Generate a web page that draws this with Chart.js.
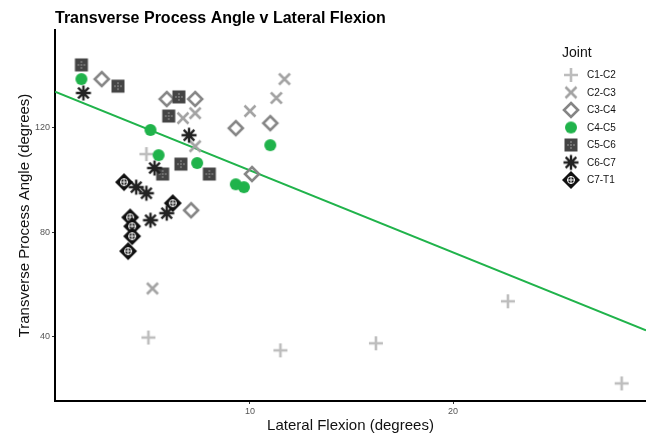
<!DOCTYPE html>
<html><head><meta charset="utf-8">
<script src="https://cdn.jsdelivr.net/npm/chart.js@4"></script>
<style>html,body{margin:0;padding:0;background:#fff}</style>
</head><body>
<canvas id="c" width="646" height="435"></canvas>
<script>
// ---- data ----
const joints = ['C1-C2', 'C2-C3', 'C3-C4', 'C4-C5', 'C5-C6', 'C6-C7', 'C7-T1'];
const c1c2X = [4.9, 5.0, 11.5, 16.2, 22.7, 28.3];
const c1c2Y = [109.7, 39.8, 34.9, 37.6, 53.6, 22.3];
const c2c3X = [5.2, 6.7, 7.3, 7.3, 10.0, 11.3, 11.7];
const c2c3Y = [58.5, 123.4, 125.3, 112.7, 126.1, 131.1, 138.3];
const c3c4X = [2.7, 5.9, 7.3, 9.3, 11.0, 10.1, 7.1];
const c3c4Y = [138.3, 130.7, 130.7, 119.6, 121.5, 102.1, 88.3];
const c4c5X = [1.7, 5.1, 5.5, 7.4, 11.0, 9.3, 9.7];
const c4c5Y = [138.3, 118.9, 109.3, 106.3, 113.1, 98.2, 97.1];
const c5c6X = [1.7, 3.5, 6.5, 6.0, 6.6, 5.7, 8.0];
const c5c6Y = [143.7, 135.6, 131.5, 124.2, 105.9, 102.1, 102.1];
const c6c7X = [1.8, 7.0, 5.3, 4.4, 4.9, 5.1, 5.9];
const c6c7Y = [133.0, 116.9, 104.4, 97.1, 94.8, 84.5, 87.2];
const c7t1X = [3.8, 4.1, 4.2, 4.2, 4.0, 6.2];
const c7t1Y = [99.0, 85.6, 82.2, 78.4, 72.7, 91.0];
const fitX = [0.4, 29.5];
const fitY = [133.5, 42.5];
const xTicks = [10, 20];
const yTicks = [40, 80, 120];

// ---- symbols ----
const FONT = '"Liberation Sans", Arial, Helvetica, sans-serif';
function sym(kind) {
  const S = 22, c = document.createElement('canvas');
  c.width = S; c.height = S;
  const g = c.getContext('2d');
  const m = S / 2;
  g.lineCap = 'butt';
  if (kind === 'plus') {
    g.strokeStyle = '#bdbdbd'; g.lineWidth = 2.6;
    g.beginPath(); g.moveTo(m - 7, m); g.lineTo(m + 7, m); g.moveTo(m, m - 7); g.lineTo(m, m + 7); g.stroke();
  } else if (kind === 'cross') {
    g.strokeStyle = '#a3a3a3'; g.lineWidth = 2.6;
    g.beginPath(); g.moveTo(m - 5.5, m - 5.5); g.lineTo(m + 5.5, m + 5.5); g.moveTo(m + 5.5, m - 5.5); g.lineTo(m - 5.5, m + 5.5); g.stroke();
  } else if (kind === 'odiamond') {
    g.strokeStyle = '#858585'; g.lineWidth = 2.6;
    g.beginPath(); g.moveTo(m, m - 7); g.lineTo(m + 7, m); g.lineTo(m, m + 7); g.lineTo(m - 7, m); g.closePath(); g.stroke();
  } else if (kind === 'circle') {
    g.fillStyle = '#20b34b';
    g.beginPath(); g.arc(m, m, 6, 0, Math.PI * 2); g.fill();
  } else if (kind === 'square') {
    g.fillStyle = '#444444';
    g.fillRect(m - 6.5, m - 6.5, 13, 13);
    g.fillStyle = '#bdbdbd';
    [[0, -3], [0, 3], [-3, 0], [3, 0], [0, 0]].forEach(p => g.fillRect(m + p[0] - 0.6, m + p[1] - 0.6, 1.2, 1.2));
  } else if (kind === 'star') {
    g.strokeStyle = '#222222'; g.lineWidth = 2.4;
    g.beginPath();
    for (let i = 0; i < 4; i++) {
      const a = i * Math.PI / 4;
      g.moveTo(m - 7.5 * Math.cos(a), m - 7.5 * Math.sin(a));
      g.lineTo(m + 7.5 * Math.cos(a), m + 7.5 * Math.sin(a));
    }
    g.stroke();
  } else if (kind === 'fdiamond') {
    g.fillStyle = '#111111';
    g.beginPath(); g.moveTo(m, m - 9); g.lineTo(m + 9, m); g.lineTo(m, m + 9); g.lineTo(m - 9, m); g.closePath(); g.fill();
    g.strokeStyle = '#ffffff'; g.lineWidth = 1;
    g.beginPath(); g.arc(m, m, 3.5, 0, Math.PI * 2); g.stroke();
    g.beginPath(); g.moveTo(m - 4, m); g.lineTo(m + 4, m); g.moveTo(m, m - 4); g.lineTo(m, m + 4); g.stroke();
  }
  return c;
}
const symbols = ['plus', 'cross', 'odiamond', 'circle', 'square', 'star', 'fdiamond'].map(sym);
const seriesX = [c1c2X, c2c3X, c3c4X, c4c5X, c5c6X, c6c7X, c7t1X];
const seriesY = [c1c2Y, c2c3Y, c3c4Y, c4c5Y, c5c6Y, c6c7Y, c7t1Y];

const datasets = joints.map((name, i) => ({
  label: name,
  data: seriesX[i].map((x, k) => ({ x: x, y: seriesY[i][k] })),
  pointStyle: symbols[i],
  pointRadius: 1,
  pointBorderWidth: 0,
  showLine: false,
  clip: false
})).reverse();
datasets.push({
  label: 'fit',
  data: fitX.map((x, k) => ({ x: x, y: fitY[k] })),
  showLine: true,
  borderColor: '#20b34b',
  borderWidth: 2,
  pointRadius: 0,
  pointBorderWidth: 0
});

const decor = {
  id: 'decor',
  afterDraw(chart) {
    const ctx = chart.ctx;
    ctx.save();
    ctx.fillStyle = '#000';
    ctx.font = 'bold 16px ' + FONT;
    ctx.textBaseline = 'alphabetic';
    ctx.textAlign = 'left';
    ctx.fillText('Transverse Process Angle v Lateral Flexion', 55, 23);
    // legend
    ctx.font = '14px ' + FONT;
    ctx.fillStyle = '#111';
    ctx.textBaseline = 'middle';
    ctx.fillText('Joint', 562, 53);
    ctx.font = '10px ' + FONT;
    joints.forEach((name, i) => {
      const cy = 75 + i * 17.5;
      const s = symbols[i];
      ctx.drawImage(s, 571 - s.width / 2, cy - s.height / 2);
      ctx.fillStyle = '#111';
      ctx.fillText(name, 587, cy + 0.5);
    });
    ctx.restore();
  }
};

new Chart(document.getElementById('c'), {
  type: 'scatter',
  data: { datasets: datasets },
  plugins: [decor],
  options: {
    responsive: false,
    devicePixelRatio: 1,
    animation: false,
    layout: { autoPadding: false, padding: { top: 30, right: 0, left: 0, bottom: 0 } },
    plugins: { legend: { display: false }, tooltip: { enabled: false }, title: { display: false } },
    scales: {
      x: {
        type: 'linear', min: 0.4, max: 29.5,
        afterBuildTicks: s => { s.ticks = xTicks.map(v => ({ value: v })); },
        afterFit: s => { s.height = 34; },
        grid: { drawOnChartArea: false, tickLength: 3, color: '#333' },
        border: { color: '#000', width: 2 },
        ticks: { font: { size: 9, family: FONT }, color: '#555', padding: 2, maxRotation: 0 },
        title: { display: true, text: 'Lateral Flexion (degrees)', color: '#111', font: { size: 15, family: FONT }, padding: { top: 0, bottom: 0 } }
      },
      y: {
        type: 'linear', min: 15.6, max: 157,
        afterBuildTicks: s => { s.ticks = yTicks.map(v => ({ value: v })); },
        afterFit: s => { s.width = 55; },
        grid: { drawOnChartArea: false, tickLength: 3, color: '#333' },
        border: { color: '#000', width: 2 },
        ticks: { font: { size: 9, family: FONT }, color: '#555', padding: 2 },
        title: { display: true, text: 'Transverse Process Angle (degrees)', color: '#111', font: { size: 15, family: FONT }, padding: { top: 16, bottom: 0 } }
      }
    }
  }
});
</script>
</body></html>
